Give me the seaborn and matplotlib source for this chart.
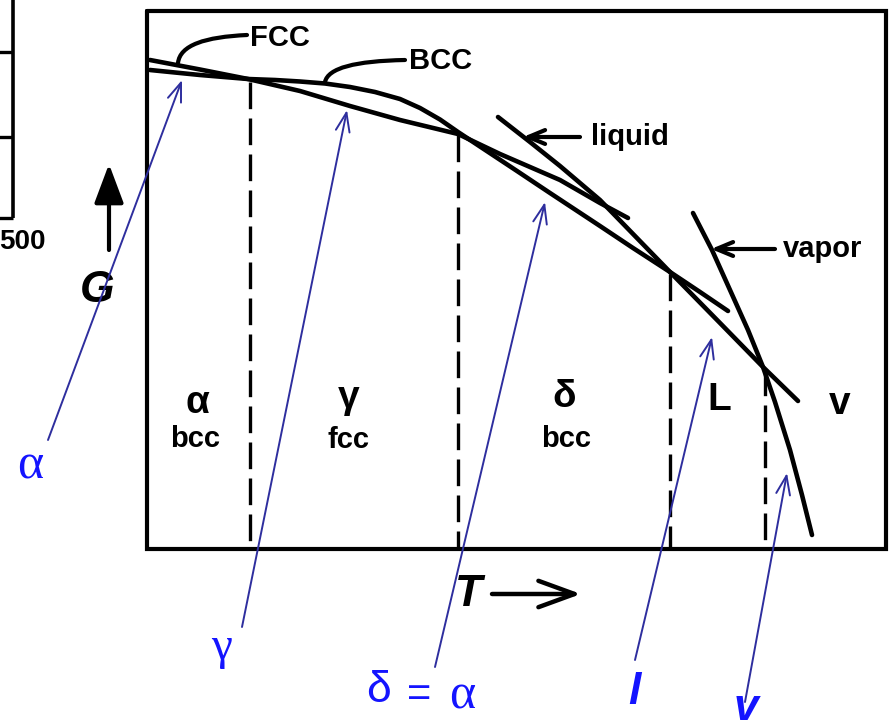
import matplotlib
matplotlib.use("Agg")
import matplotlib.pyplot as plt
from matplotlib.path import Path
from matplotlib.patches import PathPatch
import pandas as pd
import seaborn as sns

sns.set_theme(style="white")
plt.rcParams["font.family"] = ["Liberation Sans", "DejaVu Sans"]
plt.rcParams["text.color"] = "black"

W, H = 894, 728

# ---- free-energy curves G(T), drawn in page units (T to the right, G downward) ----
fcc_T = [150, 200, 248, 300, 350, 400, 458, 500, 560, 600, 628]
fcc_G = [60, 69.5, 79, 91, 106, 120, 134, 154, 180, 203, 218]
bcc_T = [150, 200, 248, 275, 300, 325, 350, 375, 400, 420, 440, 458,
         517, 550, 600, 633, 670, 700, 728]
bcc_G = [70, 75, 79, 80, 81.5, 83.5, 87, 92, 99, 108, 119.5, 132,
         171, 193, 226, 248, 272, 292, 311]
liq_T = [498, 530, 560, 600, 635, 670, 720, 763, 798]
liq_G = [117, 142, 166, 200, 236, 272, 323, 367, 401]
vap_T = [693, 712, 730, 748, 763, 775, 790, 802, 812]
vap_G = [213, 250, 290, 330, 367, 402, 450, 495, 535]

# frame of the diagram
box_left, box_top, box_right, box_bottom = 147, 11, 886, 549

# transition temperatures (dashed) and where each meets the curves
trans_T = [250, 458, 670, 765]
trans_top = [82, 135, 274, 369]

# phase fields
phase_names = ["α", "γ", "δ", "L", "v"]
phase_x = [197, 349, 564, 719, 840]
phase_y = [403, 398, 397, 400, 404]
struct_names = ["bcc", "fcc", "bcc"]
struct_x = [195, 348, 566]
struct_y = [439, 440, 439]

# curve labels with leaders
curve_labels = ["FCC", "BCC"]
curve_label_x = [250, 409]
curve_label_y = [38, 61]
leader_pts = [
    [(178, 63), (180, 45), (205, 37), (247, 35)],
    [(325, 82), (328, 68), (355, 61), (405, 60)],
]
arrow_labels = ["liquid", "vapor"]
arrow_label_x = [591, 783]
arrow_label_y = [137, 249]
arrow_tail_x = [580, 775]
arrow_tip_x = [523, 711]

# blue call-outs
note_text = ["α", "γ", "l", "v"]
note_tail = [(48, 440), (242, 627), (435, 667), (635, 660), (745, 702)]
note_tip = [(182, 80), (347, 110), (545, 202), (712, 337), (787, 473)]

blue_line = "#2e2e9e"
blue_text = "#1414ff"

fig = plt.figure(figsize=(W / 100, H / 100), dpi=100)
ax = fig.add_axes([0, 0, 1, 1])
ax.set_xlim(0, W)
ax.set_ylim(H, 0)
ax.axis("off")

# partial frame of neighbouring diagram at the far left
ax.plot([13, 13], [-5, 218], color="black", lw=2.6, solid_capstyle="butt")
ax.hlines([52, 137, 218], -5, 13, color="black", lw=2.4)
ax.text(46, 242, "500", ha="right", va="center", fontsize=20, fontweight="bold", color="black")

# main frame
ax.plot([box_left, box_right, box_right, box_left, box_left],
        [box_top, box_top, box_bottom, box_bottom, box_top],
        color="black", lw=3.0, solid_joinstyle="miter")

# dashed phase boundaries
ax.vlines(trans_T, trans_top, box_bottom, color="black", lw=2.4,
          linestyles=[(0, (8.0, 2.8))])

# G(T) curves
curves = pd.concat([
    pd.DataFrame({"T": fcc_T, "G": fcc_G, "phase": "fcc"}),
    pd.DataFrame({"T": bcc_T, "G": bcc_G, "phase": "bcc"}),
    pd.DataFrame({"T": liq_T, "G": liq_G, "phase": "liquid"}),
    pd.DataFrame({"T": vap_T, "G": vap_G, "phase": "vapor"}),
])
sns.lineplot(data=curves, x="T", y="G", units="phase", estimator=None, sort=False,
             color="black", lw=3.3, ax=ax, legend=False)
for ln in ax.lines[-4:]:
    ln.set_solid_capstyle("round")
    ln.set_solid_joinstyle("round")
ax.set_xlabel("")
ax.set_ylabel("")

# curve labels and leaders
for name, x, y in zip(curve_labels, curve_label_x, curve_label_y):
    ax.text(x, y, name, ha="left", va="center", fontsize=21, fontweight="bold", color="black")
for pts in leader_pts:
    path = Path(pts, [Path.MOVETO, Path.CURVE4, Path.CURVE4, Path.CURVE4])
    ax.add_patch(PathPatch(path, fill=False, lw=3.0, edgecolor="black", capstyle="round"))
for name, x, y, tail, tip in zip(arrow_labels, arrow_label_x, arrow_label_y, arrow_tail_x, arrow_tip_x):
    ax.text(x, y, name, ha="left", va="center", fontsize=21, fontweight="bold", color="black")
    ax.annotate("", xy=(tip, y), xytext=(tail, y),
                arrowprops=dict(arrowstyle="->,head_length=1.2,head_width=0.5",
                                color="black", lw=3.0, shrinkA=0, shrinkB=0,
                                mutation_scale=10))

# phase field labels
for name, x, y in zip(phase_names, phase_x, phase_y):
    ax.text(x, y, name, ha="center", va="center", fontsize=28, fontweight="bold", color="black")
for name, x, y in zip(struct_names, struct_x, struct_y):
    ax.text(x, y, name, ha="center", va="center", fontsize=21, fontweight="bold", color="black")

# axis arrows
ax.annotate("", xy=(109, 164), xytext=(109, 250),
            arrowprops=dict(arrowstyle="-|>,head_length=2.4,head_width=0.9",
                            color="black", lw=3.0, shrinkA=0, shrinkB=0, mutation_scale=10))
ax.text(97, 291, "G", ha="center", va="center", fontsize=32, fontweight="bold",
        style="italic", color="black")
ax.annotate("", xy=(581, 594), xytext=(492, 594),
            arrowprops=dict(arrowstyle="->,head_length=2.6,head_width=0.95",
                            color="black", lw=3.2, shrinkA=0, shrinkB=0, mutation_scale=10))
ax.text(468, 594, "T", ha="center", va="center", fontsize=32, fontweight="bold",
        style="italic", color="black")

# blue call-out arrows
for tail, tip in zip(note_tail, note_tip):
    ax.annotate("", xy=tip, xytext=tail,
                arrowprops=dict(arrowstyle="->,head_length=1.35,head_width=0.5",
                                color=blue_line, lw=1.4, shrinkA=0, shrinkB=0,
                                mutation_scale=10))

serif = ["Liberation Serif", "DejaVu Serif"]
ax.text(30, 466, note_text[0], ha="center", va="center", fontsize=36, color=blue_text, family=serif)
ax.text(222, 648, note_text[1], ha="center", va="center", fontsize=34, color=blue_text, family=serif)
ax.text(379, 690, "δ", ha="center", va="center", fontsize=32, color=blue_text)
ax.text(419, 695, "=", ha="center", va="center", fontsize=30, color=blue_text)
ax.text(462, 696, "α", ha="center", va="center", fontsize=36, color=blue_text, family=serif)
ax.text(634, 692, note_text[2], ha="center", va="center", fontsize=32, color=blue_text,
        fontweight="bold", style="italic")
ax.text(746, 708, note_text[3], ha="center", va="center", fontsize=32, color=blue_text,
        fontweight="bold", style="italic")

fig.savefig("out.png", dpi=100)
